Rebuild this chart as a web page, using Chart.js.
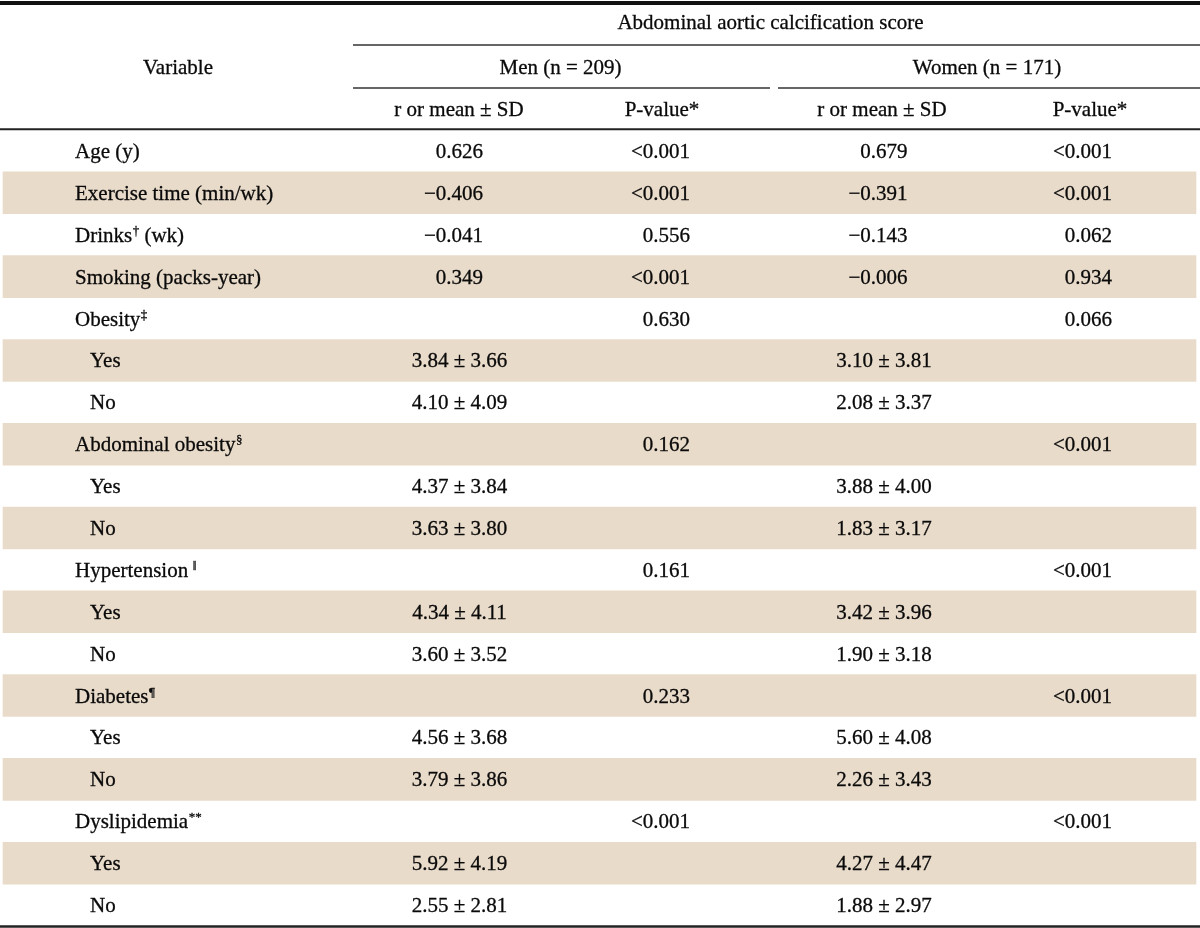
<!DOCTYPE html>
<html>
<head>
<meta charset="utf-8">
<script src="https://cdn.jsdelivr.net/npm/chart.js@4.4.1/dist/chart.umd.min.js"></script>
<style>
html,body{margin:0;padding:0;background:#ffffff;}
#wrap{width:1200px;height:928px;position:relative;}
</style>
</head>
<body>
<div id="wrap"><canvas id="c" width="1200" height="928"></canvas></div>
<script>
// ---------- table content (data) ----------
const rowLabels = ['Age (y)', 'Exercise time (min/wk)', 'Drinks', 'Smoking (packs-year)', 'Obesity', 'Yes', 'No',
  'Abdominal obesity', 'Yes', 'No', 'Hypertension', 'Yes', 'No', 'Diabetes', 'Yes', 'No', 'Dyslipidemia', 'Yes', 'No'];
const rowSup = ['', '', '\u2020', '', '\u2021', '', '', '\u00a7', '', '', '\u2016', '', '', '\u00b6', '', '', '**', '', ''];
const rowSuffix = ['', '', ' (wk)', '', '', '', '', '', '', '', '', '', '', '', '', '', '', '', ''];
const rowLevel = [0, 0, 0, 0, 0, 1, 1, 0, 1, 1, 0, 1, 1, 0, 1, 1, 0, 1, 1];
const menValue = ['0.626', '\u22120.406', '\u22120.041', '0.349', '', '3.84 \u00b1 3.66', '4.10 \u00b1 4.09',
  '', '4.37 \u00b1 3.84', '3.63 \u00b1 3.80', '', '4.34 \u00b1 4.11', '3.60 \u00b1 3.52',
  '', '4.56 \u00b1 3.68', '3.79 \u00b1 3.86', '', '5.92 \u00b1 4.19', '2.55 \u00b1 2.81'];
const menP = ['<0.001', '<0.001', '0.556', '<0.001', '0.630', '', '', '0.162', '', '', '0.161', '', '',
  '0.233', '', '', '<0.001', '', ''];
const womenValue = ['0.679', '\u22120.391', '\u22120.143', '\u22120.006', '', '3.10 \u00b1 3.81', '2.08 \u00b1 3.37',
  '', '3.88 \u00b1 4.00', '1.83 \u00b1 3.17', '', '3.42 \u00b1 3.96', '1.90 \u00b1 3.18',
  '', '5.60 \u00b1 4.08', '2.26 \u00b1 3.43', '', '4.27 \u00b1 4.47', '1.88 \u00b1 2.97'];
const womenP = ['<0.001', '<0.001', '0.062', '0.934', '0.066', '', '', '<0.001', '', '', '<0.001', '', '',
  '<0.001', '', '', '<0.001', '', ''];
const headerTitle = 'Abdominal aortic calcification score';
const headerVariable = 'Variable';
const groupLabels = ['Men (n = 209)', 'Women (n = 171)'];
const subHeaders = ['r or mean \u00b1 SD', 'P-value*'];

// ---------- layout (x positions in table units, rows in category units) ----------
const LAYOUT = {
  width: 1200,
  bandL: 3, bandR: 1196,
  labelX: 75, indentX: 90,
  variableX: 178,
  titleX: 770.5,
  groupX: [560.5, 987],
  valCenter: [459.5, 884], valRight: [483, 907.5],
  pRight: [690, 1112],
  subX: [[459, 662], [882, 1090]],
  spanL: 353, groupSpans: [[353, 770], [778, 1200]],
  titleRow: -3.07, groupRow: -2, subRow: -1,
  topRule: -3.53, titleRule: -2.53, groupRule: -1.5, headRule: -0.52, bottomRule: 18.51
};
const FONT = '21px "Liberation Serif", "Times New Roman", serif';
const SUPFONT = '13px "Liberation Serif", "Times New Roman", serif';
const TEXT = '#0a0a0a';
const BAND = '#E9DBCA';

const bandData = rowLabels.map((_, i) => (i % 2 === 1 ? [LAYOUT.bandL, LAYOUT.bandR] : null));

const tablePlugin = {
  id: 'tableText',
  afterDatasetsDraw(chart) {
    const ctx = chart.ctx;
    const x = chart.scales.x, y = chart.scales.y;
    const X = v => x.getPixelForValue(v);
    const Y = v => y.getPixelForValue(v);
    const BL = 7; // baseline offset from row centre
    ctx.save();
    ctx.fillStyle = TEXT;
    ctx.strokeStyle = TEXT;
    ctx.textBaseline = 'alphabetic';

    const draw = (s, px, py) => {
      ctx.fillText(s, px, py);
      ctx.lineWidth = 0.3;
      ctx.strokeStyle = TEXT;
      ctx.strokeText(s, px, py);
    };
    const hline = (row, x0, x1, w, col) => {
      const py = Y(row);
      ctx.beginPath();
      ctx.strokeStyle = col;
      ctx.lineWidth = w;
      ctx.moveTo(X(x0), py);
      ctx.lineTo(X(x1), py);
      ctx.stroke();
    };
    const text = (s, xv, py, align) => {
      if (!s) return;
      ctx.font = FONT;
      ctx.textAlign = align;
      draw(s, X(xv), py);
    };

    // rules
    hline(LAYOUT.topRule, 0, LAYOUT.width, 4, '#111');
    hline(LAYOUT.titleRule, LAYOUT.spanL, LAYOUT.width, 1.5, '#333');
    LAYOUT.groupSpans.forEach(s => hline(LAYOUT.groupRule, s[0], s[1], 1.5, '#333'));
    hline(LAYOUT.headRule, 0, LAYOUT.width, 2, '#222');
    hline(LAYOUT.bottomRule, 0, LAYOUT.width, 2.5, '#222');

    // header
    text(headerTitle, LAYOUT.titleX, Y(LAYOUT.titleRow) + BL, 'center');
    text(headerVariable, LAYOUT.variableX, Y(LAYOUT.groupRow) + BL, 'center');
    groupLabels.forEach((g, k) => text(g, LAYOUT.groupX[k], Y(LAYOUT.groupRow) + BL, 'center'));
    LAYOUT.subX.forEach(pair => {
      text(subHeaders[0], pair[0], Y(LAYOUT.subRow) + BL, 'center');
      text(subHeaders[1], pair[1], Y(LAYOUT.subRow) + BL, 'center');
    });

    // body rows
    const groups = [[menValue, menP], [womenValue, womenP]];
    rowLabels.forEach((lab, i) => {
      const py = Y(i) + BL;
      let px = X(rowLevel[i] ? LAYOUT.indentX : LAYOUT.labelX);
      ctx.font = FONT;
      ctx.textAlign = 'left';
      draw(lab, px, py);
      px += ctx.measureText(lab).width;
      if (rowSup[i]) {
        const sup = rowSup[i];
        if (sup === '\u2016') px += 4;
        ctx.font = SUPFONT;
        draw(sup, px + 0.5, py - 7);
        px += ctx.measureText(sup).width + 0.5;
      }
      if (rowSuffix[i]) {
        ctx.font = FONT;
        draw(rowSuffix[i], px, py);
      }
      groups.forEach((g, k) => {
        const v = g[0][i];
        if (v) {
          if (v.indexOf('\u00b1') >= 0) text(v, LAYOUT.valCenter[k], py, 'center');
          else text(v, LAYOUT.valRight[k], py, 'right');
        }
        text(g[1][i], LAYOUT.pRight[k], py, 'right');
      });
    });
    ctx.restore();
  }
};

new Chart(document.getElementById('c'), {
  type: 'bar',
  data: {
    labels: rowLabels,
    datasets: [{
      label: 'row shading',
      data: bandData,
      backgroundColor: BAND,
      borderWidth: 0,
      barPercentage: 1,
      categoryPercentage: 1
    }]
  },
  options: {
    indexAxis: 'y',
    responsive: false,
    animation: false,
    devicePixelRatio: 1,
    layout: { padding: { top: 130, bottom: 2, left: 0, right: 0 } },
    plugins: { legend: { display: false }, tooltip: { enabled: false }, title: { display: false } },
    scales: {
      x: { type: 'linear', min: 0, max: 1200, display: false, grid: { display: false } },
      y: { type: 'category', display: false, offset: true, grid: { display: false } }
    }
  },
  plugins: [tablePlugin]
});
</script>
</body>
</html>
